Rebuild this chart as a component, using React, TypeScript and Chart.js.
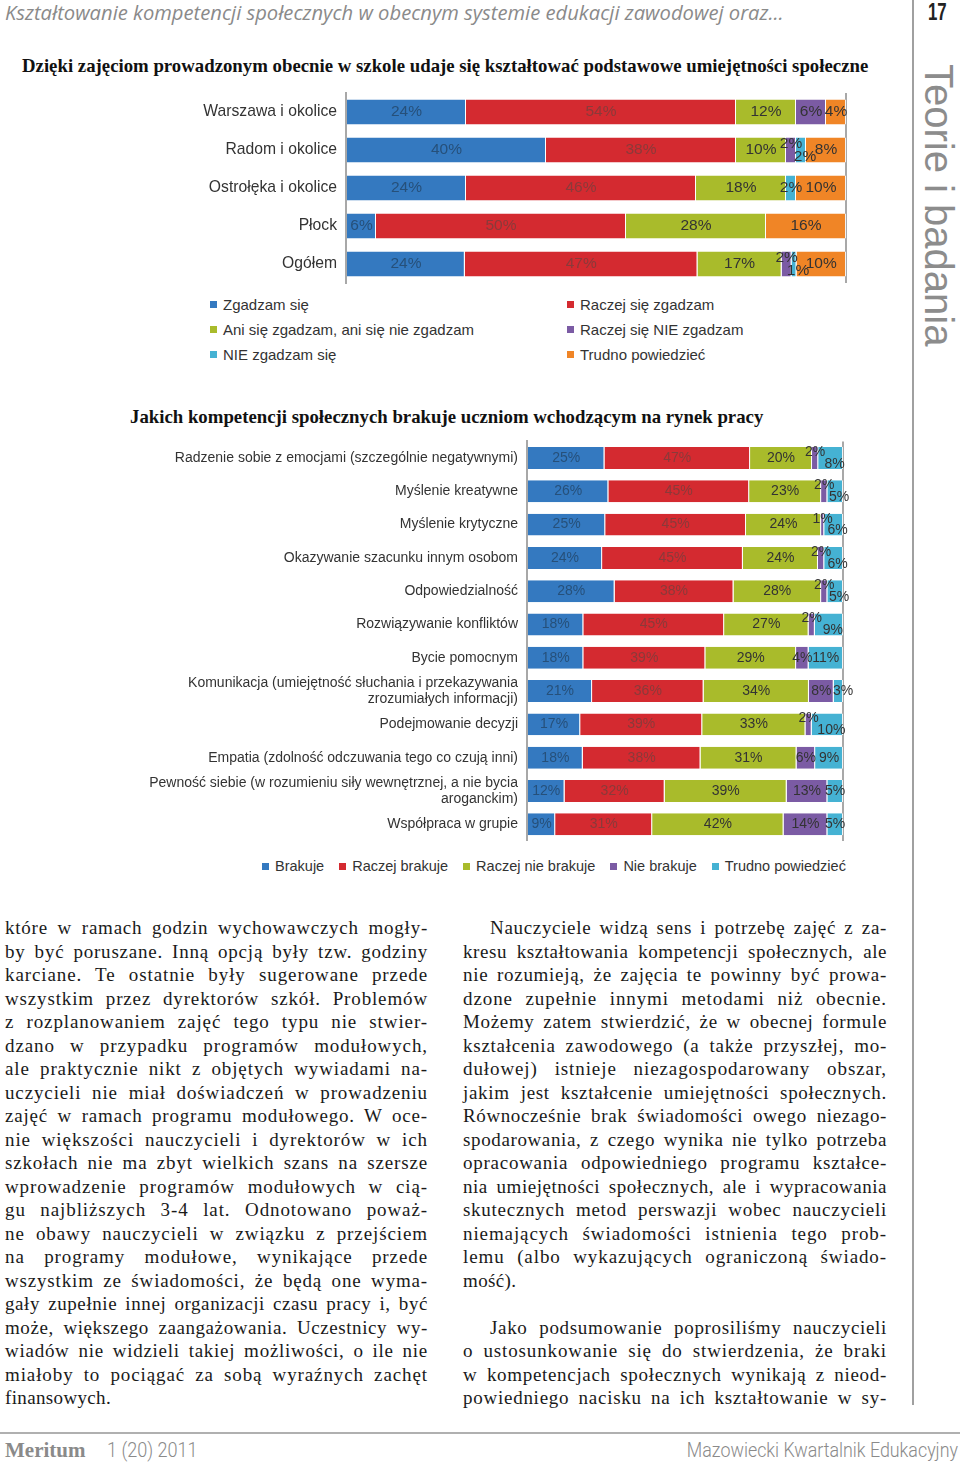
import React, { useEffect, useRef } from "react";
import { Chart, registerables } from "chart.js";
Chart.register(...registerables);

const SANS = "'Liberation Sans', Arial, sans-serif";
const SERIF = "'Liberation Serif', 'Times New Roman', serif";

// ---- Chart 1 data ----
const regions = ["Warszawa i okolice", "Radom i okolice", "Ostrołęka i okolice", "Płock", "Ogółem"];
const agreeNames = [
  "Zgadzam się",
  "Raczej się zgadzam",
  "Ani się zgadzam, ani się nie zgadzam",
  "Raczej się NIE zgadzam",
  "NIE zgadzam się",
  "Trudno powiedzieć",
];
const zgadzam = [24, 40, 24, 6, 24];
const raczejZgadzam = [54, 38, 46, 50, 47];
const aniAni = [12, 10, 18, 28, 17];
const raczejNieZgadzam = [6, 2, 0, 0, 2];
const nieZgadzam = [0, 2, 2, 0, 1];
const trudno1 = [4, 8, 10, 16, 10];

// ---- Chart 2 data ----
const skills: (string | string[])[] = [
  "Radzenie sobie z emocjami (szczególnie negatywnymi)",
  "Myślenie kreatywne",
  "Myślenie krytyczne",
  "Okazywanie szacunku innym osobom",
  "Odpowiedzialność",
  "Rozwiązywanie konfliktów",
  "Bycie pomocnym",
  ["Komunikacja (umiejętność słuchania i przekazywania", "zrozumiałych informacji)"],
  "Podejmowanie decyzji",
  "Empatia (zdolność odczuwania tego co czują inni)",
  ["Pewność siebie (w rozumieniu siły wewnętrznej, a nie bycia", "aroganckim)"],
  "Współpraca w grupie",
];
const lackNames = ["Brakuje", "Raczej brakuje", "Raczej nie brakuje", "Nie brakuje", "Trudno powiedzieć"];
const brakuje = [25, 26, 25, 24, 28, 18, 18, 21, 17, 18, 12, 9];
const raczejBrakuje = [47, 45, 45, 45, 38, 45, 39, 36, 39, 38, 32, 31];
const raczejNieBrakuje = [20, 23, 24, 24, 28, 27, 29, 34, 33, 31, 39, 42];
const nieBrakuje = [2, 2, 1, 2, 2, 2, 4, 8, 2, 6, 13, 14];
const trudno2 = [8, 5, 6, 6, 5, 9, 11, 3, 10, 9, 5, 5];

const BLUE = "#3479c0";
const RED = "#d42a30";
const OLIVE = "#a9bb2b";
const PURPLE = "#7b5ba4";
const CYAN = "#45b2d3";
const ORANGE = "#f08526";

const colors1 = [BLUE, RED, OLIVE, PURPLE, CYAN, ORANGE];
const colors2 = [BLUE, RED, OLIVE, PURPLE, CYAN];
const labelColors1 = ["#26507a", "#8a3a3a", "#333", "#333", "#333", "#333"];
const labelColors2 = ["#26507a", "#8a3a3a", "#333", "#333", "#333"];

const leftLines = [
  "które w ramach godzin wychowawczych mogły-",
  "by być poruszane. Inną opcją były tzw. godziny",
  "karciane. Te ostatnie były sugerowane przede",
  "wszystkim przez dyrektorów szkół. Problemów",
  "z rozplanowaniem zajęć tego typu nie stwier-",
  "dzano w przypadku programów modułowych,",
  "ale praktycznie nikt z objętych wywiadami na-",
  "uczycieli nie miał doświadczeń w prowadzeniu",
  "zajęć w ramach programu modułowego. W oce-",
  "nie większości nauczycieli i dyrektorów w ich",
  "szkołach nie ma zbyt wielkich szans na szersze",
  "wprowadzenie programów modułowych w cią-",
  "gu najbliższych 3-4 lat. Odnotowano poważ-",
  "ne obawy nauczycieli w związku z przejściem",
  "na programy modułowe, wynikające przede",
  "wszystkim ze świadomości, że będą one wyma-",
  "gały zupełnie innej organizacji czasu pracy i, być",
  "może, większego zaangażowania. Uczestnicy wy-",
  "wiadów nie widzieli takiej możliwości, o ile nie",
  "miałoby to pociągać za sobą wyraźnych zachęt",
  "finansowych.",
];
const rightPara1 = [
  "Nauczyciele widzą sens i potrzebę zajęć z za-",
  "kresu kształtowania kompetencji społecznych, ale",
  "nie rozumieją, że zajęcia te powinny być prowa-",
  "dzone zupełnie innymi metodami niż obecnie.",
  "Możemy zatem stwierdzić, że w obecnej formule",
  "kształcenia zawodowego (a także przyszłej, mo-",
  "dułowej) istnieje niezagospodarowany obszar,",
  "jakim jest kształcenie umiejętności społecznych.",
  "Równocześnie brak świadomości owego niezago-",
  "spodarowania, z czego wynika nie tylko potrzeba",
  "opracowania odpowiedniego programu kształce-",
  "nia umiejętności społecznych, ale i wypracowania",
  "skutecznych metod perswazji wobec nauczycieli",
  "niemających świadomości istnienia tego prob-",
  "lemu (albo wykazujących ograniczoną świado-",
  "mość).",
];
const rightPara2 = [
  "Jako podsumowanie poprosiliśmy nauczycieli",
  "o ustosunkowanie się do stwierdzenia, że braki",
  "w kompetencjach społecznych wynikają z nieod-",
  "powiedniego nacisku na ich kształtowanie w sy-",
];

function makeLabelPlugin(raw: number[][], lblColors: string[], size: number) {
  return {
    id: "segLabels",
    afterDatasetsDraw(chart: any) {
      const ctx = chart.ctx;
      ctx.save();
      ctx.font = `${size}px ${SANS}`;
      ctx.textBaseline = "middle";
      ctx.textAlign = "center";
      const lastIdx = chart.data.datasets.length - 1;
      chart.data.datasets.forEach((_ds: any, i: number) => {
        const meta = chart.getDatasetMeta(i);
        meta.data.forEach((el: any, j: number) => {
          const v = raw[i][j];
          if (!v) return;
          const txt = `${v}%`;
          let x = (el.x + el.base) / 2;
          let y = el.y;
          const p = raw[3][j];
          const tiny = p > 0 && p <= 2;
          if (tiny && i === 3) y -= size * 0.42;
          if (tiny && i === 4) {
            y += size * 0.42;
            x += 4;
          } else if (i === lastIdx && Math.abs(el.x - el.base) < ctx.measureText(txt).width * 0.6) {
            x = el.x;
          }
          ctx.fillStyle = lblColors[i];
          ctx.fillText(txt, x, y);
        });
      });
      ctx.restore();
    },
  };
}

type BarProps = {
  labels: (string | string[])[];
  series: number[][];
  names: string[];
  colors: string[];
  lblColors: string[];
  labelSize: number;
  tickSize: number;
  axisWidth: number;
  padding: { top: number; bottom: number; right: number; left: number };
  width: number;
  height: number;
};

function StackedBar(props: BarProps) {
  const ref = useRef<HTMLCanvasElement | null>(null);
  useEffect(() => {
    const { labels, series, names, colors, lblColors, labelSize, tickSize, axisWidth, padding } = props;
    const totals = labels.map((_l, j) => series.reduce((s, arr) => s + arr[j], 0));
    const chart = new Chart(ref.current as HTMLCanvasElement, {
      type: "bar",
      data: {
        labels: labels as any,
        datasets: series.map((arr, i) => ({
          label: names[i],
          data: arr.map((v, j) => (v / totals[j]) * 100),
          backgroundColor: colors[i],
          borderColor: "rgba(255,255,255,0.85)",
          borderWidth: { top: 0, bottom: 0, left: 0, right: 1 },
          borderSkipped: false,
          categoryPercentage: 1,
          barPercentage: 0.66,
        })),
      },
      options: {
        indexAxis: "y",
        animation: false,
        responsive: false,
        maintainAspectRatio: false,
        layout: { padding },
        plugins: { legend: { display: false }, tooltip: { enabled: false }, title: { display: false } },
        scales: {
          x: {
            stacked: true,
            min: 0,
            max: 100,
            ticks: { display: false },
            grid: { color: "#a8a8a8", lineWidth: 2, drawTicks: false },
            border: { display: false },
            afterBuildTicks: (scale: any) => {
              scale.ticks = [{ value: 0 }, { value: 100 }];
            },
            afterFit: (scale: any) => {
              scale.height = 0;
              scale.paddingLeft = 0;
              scale.paddingRight = 0;
            },
          },
          y: {
            stacked: true,
            grid: { display: false, drawTicks: false },
            border: { color: "#a8a8a8", width: 2 },
            ticks: {
              color: "#333",
              padding: 9,
              font: { family: SANS, size: tickSize, lineHeight: 1.1 },
              autoSkip: false,
            },
            afterFit: (scale: any) => {
              scale.width = axisWidth;
              scale.paddingTop = 0;
              scale.paddingBottom = 0;
            },
          },
        },
      },
      plugins: [makeLabelPlugin(series, lblColors, labelSize)],
    } as any);
    return () => chart.destroy();
  }, []);
  return <canvas ref={ref} width={props.width} height={props.height} style={{ width: props.width, height: props.height, display: "block" }} />;
}

const BODY_SIZE = 19;
const bodyText: React.CSSProperties = {
  fontFamily: SERIF,
  fontSize: BODY_SIZE,
  lineHeight: "23.5px",
  color: "#1a1a1a",
};

let measureCtx: CanvasRenderingContext2D | null = null;
function textWidth(t: string): number {
  if (!measureCtx) {
    const c = document.createElement("canvas");
    measureCtx = c.getContext("2d");
  }
  const ctx = measureCtx as CanvasRenderingContext2D;
  ctx.font = `${BODY_SIZE}px ${SERIF}`;
  return ctx.measureText(t).width;
}

function Line({ text, last, indent, width }: { text: string; last?: boolean; indent?: boolean; width: number }) {
  const avail = width - (indent ? 27 : 0);
  const natural = textWidth(text);
  const ls = last ? 0.35 : Math.max(0, Math.min(0.9, ((avail - natural) * 0.6) / text.length));
  return (
    <div
      style={{
        textAlign: "justify",
        textAlignLast: last ? "left" : "justify",
        whiteSpace: "nowrap",
        paddingLeft: indent ? 27 : 0,
        height: 23.5,
        letterSpacing: ls,
      }}
    >
      {text}
    </div>
  );
}

export default function App() {
  useEffect(() => {
    document.body.style.margin = "0";
  }, []);
  return (
    <div style={{ position: "absolute", left: 0, top: 0, width: 960, height: 1464, background: "#fff", overflow: "hidden" }}>
      {/* Header */}
      <div style={{ position: "absolute", left: 5, top: -1, fontFamily: "'Open Sans', sans-serif", fontStyle: "italic", fontSize: 20.2, color: "#8a8a8a", whiteSpace: "nowrap", lineHeight: "26px" }}>
        Kształtowanie kompetencji społecznych w obecnym systemie edukacji zawodowej oraz...
      </div>
      <div style={{ position: "absolute", left: 928, top: -1, fontFamily: SANS, fontWeight: 700, fontSize: 24, color: "#222", lineHeight: "26px", transform: "scaleX(0.7)", transformOrigin: "left top" }}>
        17
      </div>
      <div style={{ position: "absolute", left: 912, top: 0, width: 2, height: 1405, background: "#a0a0a0" }} />
      <div style={{ position: "absolute", left: 919, top: 64, writingMode: "vertical-rl", fontFamily: SANS, fontSize: 40, lineHeight: "40px", color: "#8c8c8c", whiteSpace: "nowrap" }}>
        Teorie i badania
      </div>

      {/* Chart 1 */}
      <div style={{ position: "absolute", left: 22, top: 55, fontFamily: SERIF, fontWeight: 700, fontSize: 18.8, lineHeight: "22px", color: "#111", whiteSpace: "nowrap" }}>
        Dzięki zajęciom prowadzonym obecnie w szkole udaje się kształtować podstawowe umiejętności społeczne
      </div>
      <div style={{ position: "absolute", left: 190, top: 90 }}>
        <StackedBar
          labels={regions}
          series={[zgadzam, raczejZgadzam, aniAni, raczejNieZgadzam, nieZgadzam, trudno1]}
          names={agreeNames}
          colors={colors1}
          lblColors={labelColors1}
          labelSize={15.5}
          tickSize={15.7}
          axisWidth={156}
          padding={{ top: 3, bottom: 7, right: 14, left: 0 }}
          width={670}
          height={200}
        />
      </div>
      <div style={{ position: "absolute", left: 210, top: 292, display: "grid", gridTemplateColumns: "357px auto", rowGap: 0, fontFamily: SANS, fontSize: 15, color: "#333" }}>
        {agreeNames.map((n, i) => (
          <div key={n} style={{ display: "flex", alignItems: "center", height: 25, whiteSpace: "nowrap" }}>
            <span style={{ width: 7, height: 7, background: colors1[i], marginRight: 6, display: "inline-block" }} />
            {n}
          </div>
        ))}
      </div>

      {/* Chart 2 */}
      <div style={{ position: "absolute", left: 130, top: 406, fontFamily: SERIF, fontWeight: 700, fontSize: 18.8, lineHeight: "22px", color: "#111", whiteSpace: "nowrap" }}>
        Jakich kompetencji społecznych brakuje uczniom wchodzącym na rynek pracy
      </div>
      <div style={{ position: "absolute", left: 140, top: 430 }}>
        <StackedBar
          labels={skills}
          series={[brakuje, raczejBrakuje, raczejNieBrakuje, nieBrakuje, trudno2]}
          names={lackNames}
          colors={colors2}
          lblColors={labelColors2}
          labelSize={14}
          tickSize={14}
          axisWidth={387}
          padding={{ top: 11.4, bottom: 9.1, right: 17, left: 0 }}
          width={720}
          height={420}
        />
      </div>
      <div style={{ position: "absolute", left: 262, top: 856, display: "flex", gap: 15, fontFamily: SANS, fontSize: 14.5, color: "#333", height: 20, alignItems: "center" }}>
        {lackNames.map((n, i) => (
          <div key={n} style={{ display: "flex", alignItems: "center", whiteSpace: "nowrap" }}>
            <span style={{ width: 7, height: 7, background: colors2[i], marginRight: 6, display: "inline-block" }} />
            {n}
          </div>
        ))}
      </div>

      {/* Body text */}
      <div style={{ position: "absolute", left: 5, top: 916, width: 423, ...bodyText }}>
        {leftLines.map((t, i) => (
          <Line key={i} text={t} width={423} last={i === leftLines.length - 1} />
        ))}
      </div>
      <div style={{ position: "absolute", left: 463, top: 916, width: 424, ...bodyText }}>
        {rightPara1.map((t, i) => (
          <Line key={"a" + i} text={t} width={424} indent={i === 0} last={i === rightPara1.length - 1} />
        ))}
        <div style={{ height: 23.5 }} />
        {rightPara2.map((t, i) => (
          <Line key={"b" + i} text={t} width={424} indent={i === 0} />
        ))}
      </div>

      {/* Footer */}
      <div style={{ position: "absolute", left: 0, top: 1432, width: 960, height: 1.5, background: "#b0b0b0" }} />
      <div style={{ position: "absolute", left: 5, top: 1438, fontFamily: SERIF, fontWeight: 700, fontSize: 21, color: "#8a8a8a", lineHeight: "24px" }}>
        Meritum
      </div>
      <div style={{ position: "absolute", left: 107, top: 1438, fontFamily: "Roboto, sans-serif", fontWeight: 300, fontSize: 21, color: "#8a8a8a", lineHeight: "24px", transform: "scaleX(0.86)", transformOrigin: "left top", whiteSpace: "nowrap" }}>
        1 (20) 2011
      </div>
      <div style={{ position: "absolute", right: 2, top: 1438, fontFamily: "Roboto, sans-serif", fontWeight: 300, fontSize: 21, color: "#8a8a8a", lineHeight: "24px", transform: "scaleX(0.85)", transformOrigin: "right top", whiteSpace: "nowrap" }}>
        Mazowiecki Kwartalnik Edukacyjny
      </div>
    </div>
  );
}
